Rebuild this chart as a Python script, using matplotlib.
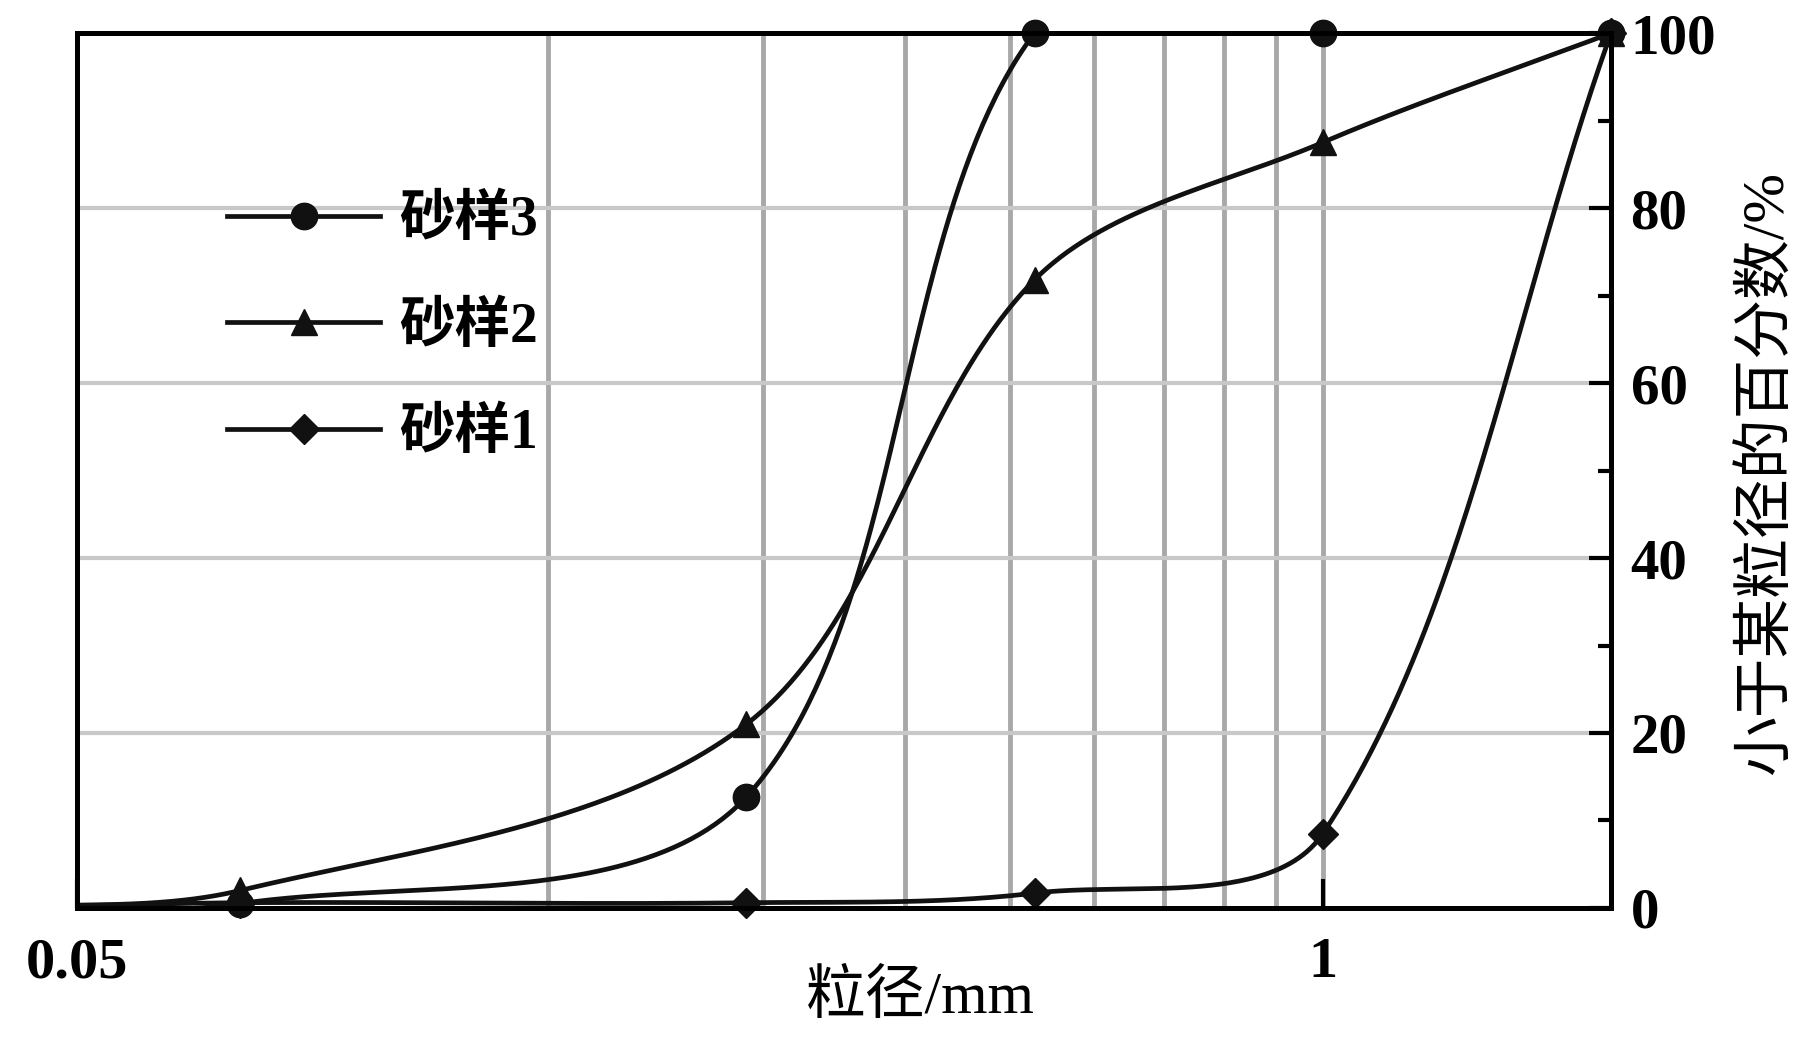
import numpy as np
import matplotlib
matplotlib.use("Agg")
import matplotlib.pyplot as plt
from matplotlib.lines import Line2D
from matplotlib.ticker import FixedLocator, NullLocator, FixedFormatter

plt.rcParams['font.family'] = ['Liberation Serif', 'Noto Sans CJK SC', 'DejaVu Sans']

# ---- data ----
sizes = [0.04, 0.074, 0.25, 0.5, 1.0, 2.0]          # particle size, mm (first lies left of the axis, no marker)
sample3 = [0.0, 0.5, 12.7, 100.0, 100.0, 100.0]
sample2 = [0.0, 2.0, 21.0, 71.8, 87.5, 100.0]
sample1 = [0.0, 0.6, 0.6, 1.7, 8.5, 100.0]
labels = ["砂样3", "砂样2", "砂样1"]
markers = ["o", "^", "D"]
xgrid = [0.155, 0.26, 0.366, 0.471, 0.577, 0.683, 0.788, 0.894, 1.0]
ygrid = [20, 40, 60, 80]
xticks = [0.05, 1.0]
xticklabels = ["0.05", "1"]
yticks = [0, 20, 40, 60, 80, 100]
yminor = [10, 30, 50, 70, 90]

FIG_W, FIG_H, DPI = 18.09, 10.59, 100
AX_RECT = [0.0426, 0.1426, 0.848, 0.8262]
XLIM = (0.05, 2.0)
YLIM = (0, 100)


def smooth(xs, ys, n=100):
    # Bezier smoothing (chord-length weighted) computed in pixel space
    ax_w = AX_RECT[2] * FIG_W * DPI
    ax_h = AX_RECT[3] * FIG_H * DPI
    kx = ax_w / (np.log10(XLIM[1]) - np.log10(XLIM[0]))
    ky = ax_h / (YLIM[1] - YLIM[0])
    pts = np.column_stack([np.log10(xs) * kx, np.asarray(ys, float) * ky])
    N = len(pts)
    out = []
    for i in range(N - 1):
        p1 = pts[i]
        p2 = pts[i + 1]
        d12 = np.hypot(*(p2 - p1))
        if i > 0:
            p0 = pts[i - 1]
            d01 = np.hypot(*(p1 - p0))
            c1 = p1 + (p2 - p0) * d12 / (d01 + d12) / 3.0
        else:
            c1 = p1 + (p2 - p1) / 3.0
        if i + 2 < N:
            p3 = pts[i + 2]
            d23 = np.hypot(*(p3 - p2))
            c2 = p2 - (p3 - p1) * d12 / (d12 + d23) / 3.0
        else:
            c2 = p2 - (p2 - p1) / 3.0
        t = np.linspace(0, 1, n)[:, None]
        seg = (1 - t) ** 3 * p1 + 3 * (1 - t) ** 2 * t * c1 + 3 * (1 - t) * t ** 2 * c2 + t ** 3 * p2
        out.append(seg if i == 0 else seg[1:])
    out = np.vstack(out)
    return 10 ** (out[:, 0] / kx), out[:, 1] / ky


fig = plt.figure(figsize=(FIG_W, FIG_H), dpi=DPI)
ax = fig.add_axes(AX_RECT)

ax.set_xscale('log')
ax.set_xlim(*XLIM)
ax.set_ylim(*YLIM)

for gx in xgrid:
    ax.axvline(gx, color='#a8a8a8', lw=3.5, zorder=1)
for gy in ygrid:
    ax.axhline(gy, color='#c8c8c8', lw=3.0, zorder=1)

col = '#111111'
ms = {"o": 19, "^": 19, "D": 15}
for ys, m in zip([sample3, sample2, sample1], markers):
    sx, sy = smooth(sizes, ys)
    ax.plot(sx, sy, color=col, lw=3.4, zorder=3)
    ax.plot(sizes[1:], ys[1:], linestyle='none', marker=m, ms=ms[m], color=col,
            mec=col, clip_on=False, zorder=4)

for s in ax.spines.values():
    s.set_linewidth(3.6)
    s.set_color('black')
    s.set_zorder(5)

ax.xaxis.set_major_locator(FixedLocator(xticks))
ax.xaxis.set_major_formatter(FixedFormatter(xticklabels))
ax.xaxis.set_minor_locator(NullLocator())
ax.tick_params(axis='x', which='major', direction='in', length=21, width=3,
               pad=21, labelsize=42, top=False)
for t in ax.get_xticklabels():
    t.set_fontweight('bold')

ax.yaxis.tick_right()
ax.yaxis.set_major_locator(FixedLocator(yticks))
ax.yaxis.set_minor_locator(FixedLocator(yminor))
ax.tick_params(axis='y', which='major', direction='in', length=16, width=3,
               pad=14, labelsize=41, left=False, right=True)
ax.tick_params(axis='y', which='minor', direction='in', length=9.5, width=3,
               left=False, right=True)
for t in ax.get_yticklabels():
    t.set_fontweight('bold')

handles = [Line2D([], [], color=col, lw=3.4, marker=m, ms=ms[m]) for m in markers]
leg = ax.legend(handles, labels, loc='upper left', bbox_to_anchor=(0.098, 0.815),
                frameon=False, borderpad=0, borderaxespad=0, handlelength=2.75,
                handletextpad=0.35, labelspacing=0.97,
                prop={'size': 40, 'weight': 'bold'})

fig.text(0.5086, 0.0576, "粒径/mm", fontsize=43, ha='center', va='center')
fig.text(0.977, 0.553, "小于某粒径的百分数/%", fontsize=43, ha='center', va='center',
         rotation=90)

fig.savefig("out.png", dpi=DPI, facecolor='white')
